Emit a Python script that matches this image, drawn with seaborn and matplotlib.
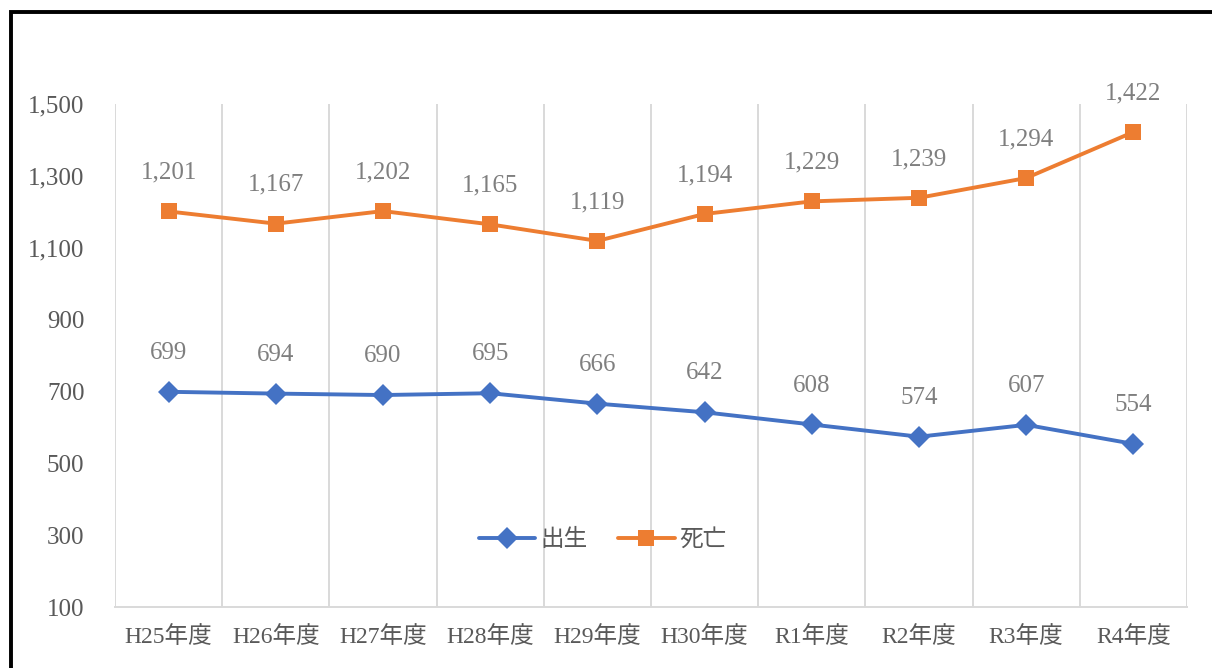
import numpy as np
import pandas as pd
import seaborn as sns
import matplotlib.pyplot as plt
from matplotlib.patches import Rectangle

# -------- data --------
years = ["H25年度", "H26年度", "H27年度", "H28年度", "H29年度",
         "H30年度", "R1年度", "R2年度", "R3年度", "R4年度"]
births = [699, 694, 690, 695, 666, 642, 608, 574, 607, 554]
deaths = [1201, 1167, 1202, 1165, 1119, 1194, 1229, 1239, 1294, 1422]
series_names = ["出生", "死亡"]
y_ticks = [100, 300, 500, 700, 900, 1100, 1300, 1500]

df = pd.DataFrame({
    "year": years * 2,
    "value": births + deaths,
    "series": [series_names[0]] * len(years) + [series_names[1]] * len(years),
})

sns.set_theme(style="white")
num_font = ["Liberation Serif", "Noto Sans CJK JP", "DejaVu Sans"]
plt.rcParams["font.family"] = num_font

fig = plt.figure(figsize=(12.12, 6.68), dpi=100)
ax = fig.add_axes([0.0949, 0.0913, 0.8845, 0.753])

colors = {"出生": "#4472C4", "死亡": "#ED7D31"}
sns.lineplot(data=df, x="year", y="value", hue="series", style="series",
             markers={"出生": "D", "死亡": "s"}, dashes=False, sort=False,
             palette=colors, linewidth=2.8, markersize=11.5,
             markeredgewidth=0, ax=ax)

ax.set_xlim(-0.5, len(years) - 0.5)
ax.set_ylim(100, 1500)
ax.set_yticks(y_ticks)
ax.set_yticklabels([f"{v:,}" for v in y_ticks])
ax.set_xlabel("")
ax.set_ylabel("")

# vertical grid lines between categories
ax.set_xticks(np.arange(-0.5, len(years)), minor=True)
ax.grid(which="minor", axis="x", color="#d9d9d9", linewidth=1.4)
ax.grid(which="major", visible=False)
ax.tick_params(axis="both", which="both", length=0)
ax.tick_params(axis="y", pad=22, labelsize=18, labelcolor="#595959")
ax.tick_params(axis="x", pad=14, labelsize=17, labelcolor="#595959")

for s in ["top", "left", "right"]:
    ax.spines[s].set_visible(False)
ax.spines["bottom"].set_color("#d9d9d9")
ax.spines["bottom"].set_linewidth(1.4)

# data labels
for i, (b, d) in enumerate(zip(births, deaths)):
    ax.annotate(f"{b:,}", (i, b), xytext=(0, 20), textcoords="offset points",
                ha="center", va="bottom", fontsize=18, color="#7f7f7f")
    ax.annotate(f"{d:,}", (i, d), xytext=(0, 20), textcoords="offset points",
                ha="center", va="bottom", fontsize=18, color="#7f7f7f")

leg = ax.legend(loc="center", bbox_to_anchor=(0.455, 0.133), ncol=2,
                frameon=False, fontsize=17, handlelength=2.4,
                columnspacing=1.3, handletextpad=0.2)
for t in leg.get_texts():
    t.set_color("#595959")

# outer frame
fig.patches.append(Rectangle((10.5 / 1212, -0.1), 1.2, 1 - 12.5 / 668 + 0.1,
                             transform=fig.transFigure, fill=False,
                             edgecolor="black", linewidth=2.8))

fig.savefig("out.png", dpi=100)
